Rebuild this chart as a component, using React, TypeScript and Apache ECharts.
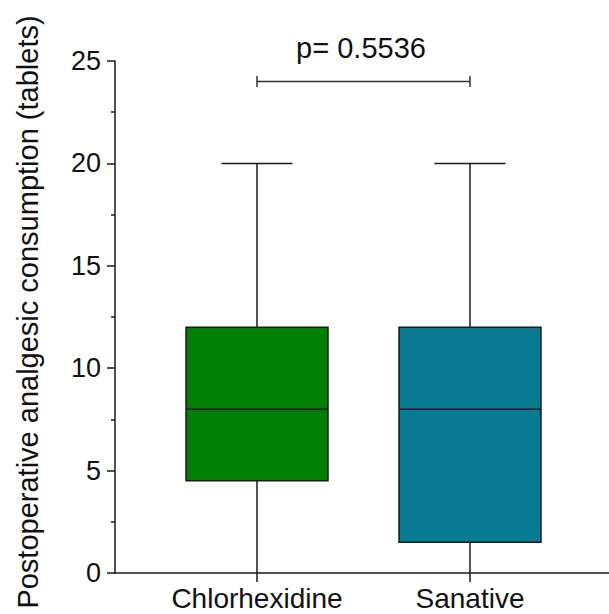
import React, { useEffect, useRef } from "react";
import * as echarts from "echarts";

const categories = ["Chlorhexidine", "Sanative"];
// [min, Q1, median, Q3, max]
const boxValues = [
  [0, 4.5, 8, 12, 20],
  [0, 1.5, 8, 12, 20],
];
const boxColors = ["#008000", "#087b93"];
const yTickValues = { min: 0, max: 25, interval: 5 };
const pLabel = "p= 0.5536";
const bracketLevel = 24;

// category slots: boxes sit at slot 2 and 5 of an 8-slot axis
const slotPositions = [2, 5];
const slotCount = 8;

const FONT = "'Liberation Sans', Arial, sans-serif";
const INK = "#1a1a1a";

export default function App() {
  const ref = useRef<HTMLDivElement>(null);
  useEffect(() => {
    document.body.style.margin = "0";
    const chart = echarts.init(ref.current!, null, { renderer: "svg" });
    const slots: string[] = Array.from({ length: slotCount }, () => "");
    slotPositions.forEach((p, i) => (slots[p] = categories[i]));
    const showSlot = (idx: number) => slotPositions.indexOf(idx) >= 0;

    const boxData = boxValues.map((v, i) => [slotPositions[i], ...v, i]);

    chart.setOption({
      animation: false,
      textStyle: { fontFamily: FONT },
      grid: { left: 115, top: 61, width: 497, height: 512, containLabel: false, outerBoundsMode: "none" },
      xAxis: {
        type: "category",
        data: slots,
        boundaryGap: false,
        axisLine: { show: true, lineStyle: { color: INK, width: 1.5 } },
        axisTick: { show: true, interval: (i: number) => showSlot(i), length: 9, lineStyle: { color: INK, width: 1.5 } },
        axisLabel: {
          interval: (i: number) => showSlot(i),
          fontSize: 28,
          lineHeight: 26,
          color: "#111",
          margin: 12,
          fontFamily: FONT,
        },
        splitLine: { show: false },
      },
      yAxis: {
        type: "value",
        min: yTickValues.min,
        max: yTickValues.max,
        interval: yTickValues.interval,
        name: "Postoperative analgesic consumption (tablets)",
        nameLocation: "middle",
        nameGap: 73,
        nameTextStyle: { fontSize: 29, color: "#111", fontFamily: FONT, padding: [0, 0, 0, 10] },
        axisLine: { show: true, lineStyle: { color: INK, width: 1.5 } },
        axisTick: { show: true, length: 8, lineStyle: { color: INK, width: 1.5 } },
        minorTick: { show: true, splitNumber: 2, length: 4, lineStyle: { color: INK, width: 1.5 } },
        axisLabel: { fontSize: 27, color: "#111", margin: 14, fontFamily: FONT },
        splitLine: { show: false },
      },
      series: [
        {
          type: "custom",
          data: boxData,
          renderItem: (params: any, api: any) => {
            const x = api.value(0);
            const mn = api.coord([x, api.value(1)]);
            const q1 = api.coord([x, api.value(2)]);
            const md = api.coord([x, api.value(3)]);
            const q3 = api.coord([x, api.value(4)]);
            const mx = api.coord([x, api.value(5)]);
            const idx = api.value(6);
            const bw = api.size([1, 0])[0] * 2;
            const hw = bw / 2;
            const cw = bw / 4;
            const cx = mn[0];
            const ls = { stroke: INK, lineWidth: 1.5 };
            return {
              type: "group",
              children: [
                { type: "line", shape: { x1: cx, y1: mx[1], x2: cx, y2: q3[1] }, style: ls },
                { type: "line", shape: { x1: cx, y1: q1[1], x2: cx, y2: mn[1] }, style: ls },
                { type: "line", shape: { x1: cx - cw, y1: mx[1], x2: cx + cw, y2: mx[1] }, style: ls },
                {
                  type: "rect",
                  shape: { x: cx - hw, y: q3[1], width: bw, height: q1[1] - q3[1] },
                  style: { fill: boxColors[idx], stroke: INK, lineWidth: 1.5 },
                },
                { type: "line", shape: { x1: cx - hw, y1: md[1], x2: cx + hw, y2: md[1] }, style: ls },
              ],
            };
          },
          z: 3,
        },
        {
          type: "line",
          data: slotPositions.map((p) => [p, bracketLevel]),
          symbol: "rect",
          symbolSize: [1.5, 11],
          itemStyle: { color: "#333" },
          lineStyle: { color: "#333", width: 1.5 },
          label: { show: false },
          silent: true,
        },
      ],
      graphic: [
        {
          type: "text",
          x: 361,
          y: 48,
          style: {
            text: pLabel,
            fontSize: 29,
            fontFamily: FONT,
            fill: "#111",
            textAlign: "center",
            textVerticalAlign: "middle",
          },
        },
      ],
    });
    return () => chart.dispose();
  }, []);
  return <div ref={ref} style={{ width: 609, height: 614 }} />;
}
